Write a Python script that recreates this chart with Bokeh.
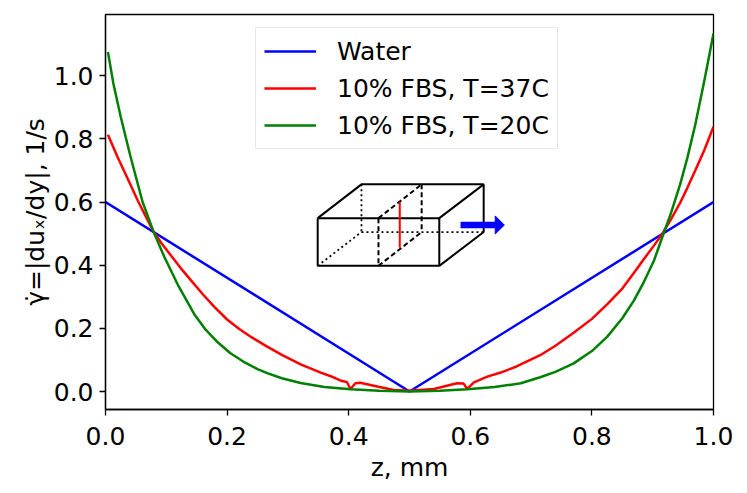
from bokeh.plotting import figure
from bokeh.models import Range1d, FixedTicker, Legend, LegendItem, NumeralTickFormatter
from bokeh.embed import file_html
from bokeh.resources import INLINE

# ---- data ----
z_water = [0.0, 0.5, 1.0]
v_water = [0.6, 0.0, 0.6]

z_fbs37 = [0.004, 0.020, 0.036, 0.053, 0.066, 0.079, 0.093, 0.108, 0.124, 0.141,
           0.160, 0.179, 0.200, 0.220, 0.240, 0.266, 0.290, 0.321, 0.354, 0.375,
           0.389, 0.397, 0.403, 0.411, 0.419, 0.447, 0.474, 0.500, 0.540, 0.578,
           0.589, 0.595, 0.606, 0.628, 0.650, 0.677, 0.715, 0.740, 0.770, 0.800,
           0.825, 0.850, 0.869, 0.885, 0.902, 0.916, 0.930, 0.945, 0.957, 0.970,
           0.985, 1.000]
v_fbs37 = [0.813, 0.742, 0.676, 0.605, 0.555, 0.506, 0.467, 0.430, 0.390, 0.351,
           0.308, 0.268, 0.228, 0.198, 0.172, 0.142, 0.116, 0.086, 0.060, 0.045,
           0.033, 0.030, 0.008, 0.026, 0.028, 0.016, 0.005, 0.002, 0.008, 0.026,
           0.025, 0.008, 0.029, 0.047, 0.060, 0.080, 0.115, 0.145, 0.186, 0.230,
           0.276, 0.326, 0.375, 0.418, 0.462, 0.500, 0.545, 0.597, 0.645, 0.700,
           0.765, 0.839]

z_fbs20 = [0.004, 0.013, 0.025, 0.041, 0.061, 0.079, 0.097, 0.119, 0.146, 0.165,
           0.185, 0.205, 0.229, 0.250, 0.266, 0.290, 0.321, 0.360, 0.403, 0.450,
           0.500, 0.550, 0.595, 0.640, 0.683, 0.715, 0.740, 0.770, 0.800, 0.825,
           0.850, 0.869, 0.885, 0.902, 0.916, 0.930, 0.945, 0.957, 0.970, 0.985,
           1.000]
v_fbs20 = [1.075, 0.975, 0.870, 0.745, 0.600, 0.506, 0.425, 0.338, 0.245, 0.195,
           0.155, 0.122, 0.092, 0.071, 0.058, 0.042, 0.027, 0.014, 0.007, 0.002,
           0.000, 0.002, 0.007, 0.014, 0.026, 0.045, 0.062, 0.089, 0.128, 0.173,
           0.232, 0.288, 0.345, 0.414, 0.490, 0.565, 0.655, 0.740, 0.845, 0.985,
           1.134]

labels = ["Water", "10% FBS, T=37C", "10% FBS, T=20C"]
x_ticks = [0.0, 0.2, 0.4, 0.6, 0.8, 1.0]
y_ticks = [0.0, 0.2, 0.4, 0.6, 0.8, 1.0]

FONT = "DejaVu Sans"
FS = "25px"

p = figure(frame_width=608, frame_height=395,
           min_border_left=105, min_border_right=26, min_border_top=14, min_border_bottom=76,
           x_range=Range1d(0.0, 1.0), y_range=Range1d(-0.057, 1.194),
           output_backend="svg", toolbar_location=None)
p.background_fill_color = "white"
p.border_fill_color = "white"
p.outline_line_color = "black"
p.outline_line_width = 1.3
p.grid.visible = False

for ax in (p.xaxis[0], p.yaxis[0]):
    ax.major_label_text_font = FONT
    ax.major_label_text_font_size = FS
    ax.major_label_text_color = "black"
    ax.axis_label_text_font = FONT
    ax.axis_label_text_font_size = FS
    ax.axis_label_text_font_style = "normal"
    ax.axis_label_text_color = "black"
    ax.major_tick_out = 6
    ax.major_tick_in = 0
    ax.minor_tick_out = 0
    ax.minor_tick_in = 0
    ax.major_tick_line_width = 1.3
    ax.axis_line_width = 1.3
    ax.formatter = NumeralTickFormatter(format="0.0")

p.xaxis[0].major_label_standoff = 11
p.yaxis[0].major_label_standoff = 6
p.xaxis[0].ticker = FixedTicker(ticks=x_ticks)
p.yaxis[0].ticker = FixedTicker(ticks=y_ticks)
p.xaxis[0].axis_label = "z, mm"
p.yaxis[0].axis_label = "\u03b3\u0307=|du\u2093/dy|, 1/s"
p.xaxis[0].axis_label_standoff = 5
p.yaxis[0].axis_label_standoff = 1

r_w = p.line(z_water, v_water, line_color="#0000ff", line_width=2.5)
r_37 = p.line(z_fbs37, v_fbs37, line_color="#ff0000", line_width=2.5)
r_20 = p.line(z_fbs20, v_fbs20, line_color="#008000", line_width=2.5)

# ---- inset sketch of the channel (decoration) ----
solid_x = [[0.349, 0.549, 0.549, 0.349, 0.349], [0.349, 0.421, 0.622, 0.549], [0.622, 0.622, 0.549]]
solid_y = [[0.549, 0.549, 0.398, 0.398, 0.549], [0.549, 0.656, 0.656, 0.549], [0.656, 0.505, 0.398]]
p.multi_line(solid_x, solid_y, line_color="black", line_width=2)
dot_x = [[0.421, 0.421], [0.421, 0.622], [0.349, 0.421]]
dot_y = [[0.656, 0.505], [0.505, 0.505], [0.398, 0.505]]
p.multi_line(dot_x, dot_y, line_color="black", line_width=1.8, line_dash="2 3")
dash_x = [[0.449, 0.449], [0.449, 0.520], [0.520, 0.520], [0.449, 0.520]]
dash_y = [[0.549, 0.398], [0.549, 0.656], [0.656, 0.505], [0.398, 0.505]]
p.multi_line(dash_x, dash_y, line_color="black", line_width=2, line_dash="5 3")
p.line([0.484, 0.484], [0.600, 0.455], line_color="#ff0000", line_width=2)
p.line([0.584, 0.645], [0.527, 0.527], line_color="#0000ff", line_width=6.5)
p.patch([0.641, 0.656, 0.641], [0.556, 0.527, 0.499], fill_color="#0000ff", line_color="#0000ff", line_width=1)

legend = Legend(items=[LegendItem(label=labels[0], renderers=[r_w]),
                       LegendItem(label=labels[1], renderers=[r_37]),
                       LegendItem(label=labels[2], renderers=[r_20])],
                location=(150, 260))
legend.label_text_font = FONT
legend.label_text_font_size = FS
legend.label_text_color = "black"
legend.glyph_width = 52
legend.glyph_height = 30
legend.label_height = 30
legend.label_standoff = 21
legend.spacing = 7
legend.padding = 8
legend.margin = 0
legend.border_line_color = "#d0d0d0"
legend.border_line_width = 1.3
legend.background_fill_alpha = 0.8
p.add_layout(legend, "center")

open("out.html", "w").write(file_html(p, INLINE))
